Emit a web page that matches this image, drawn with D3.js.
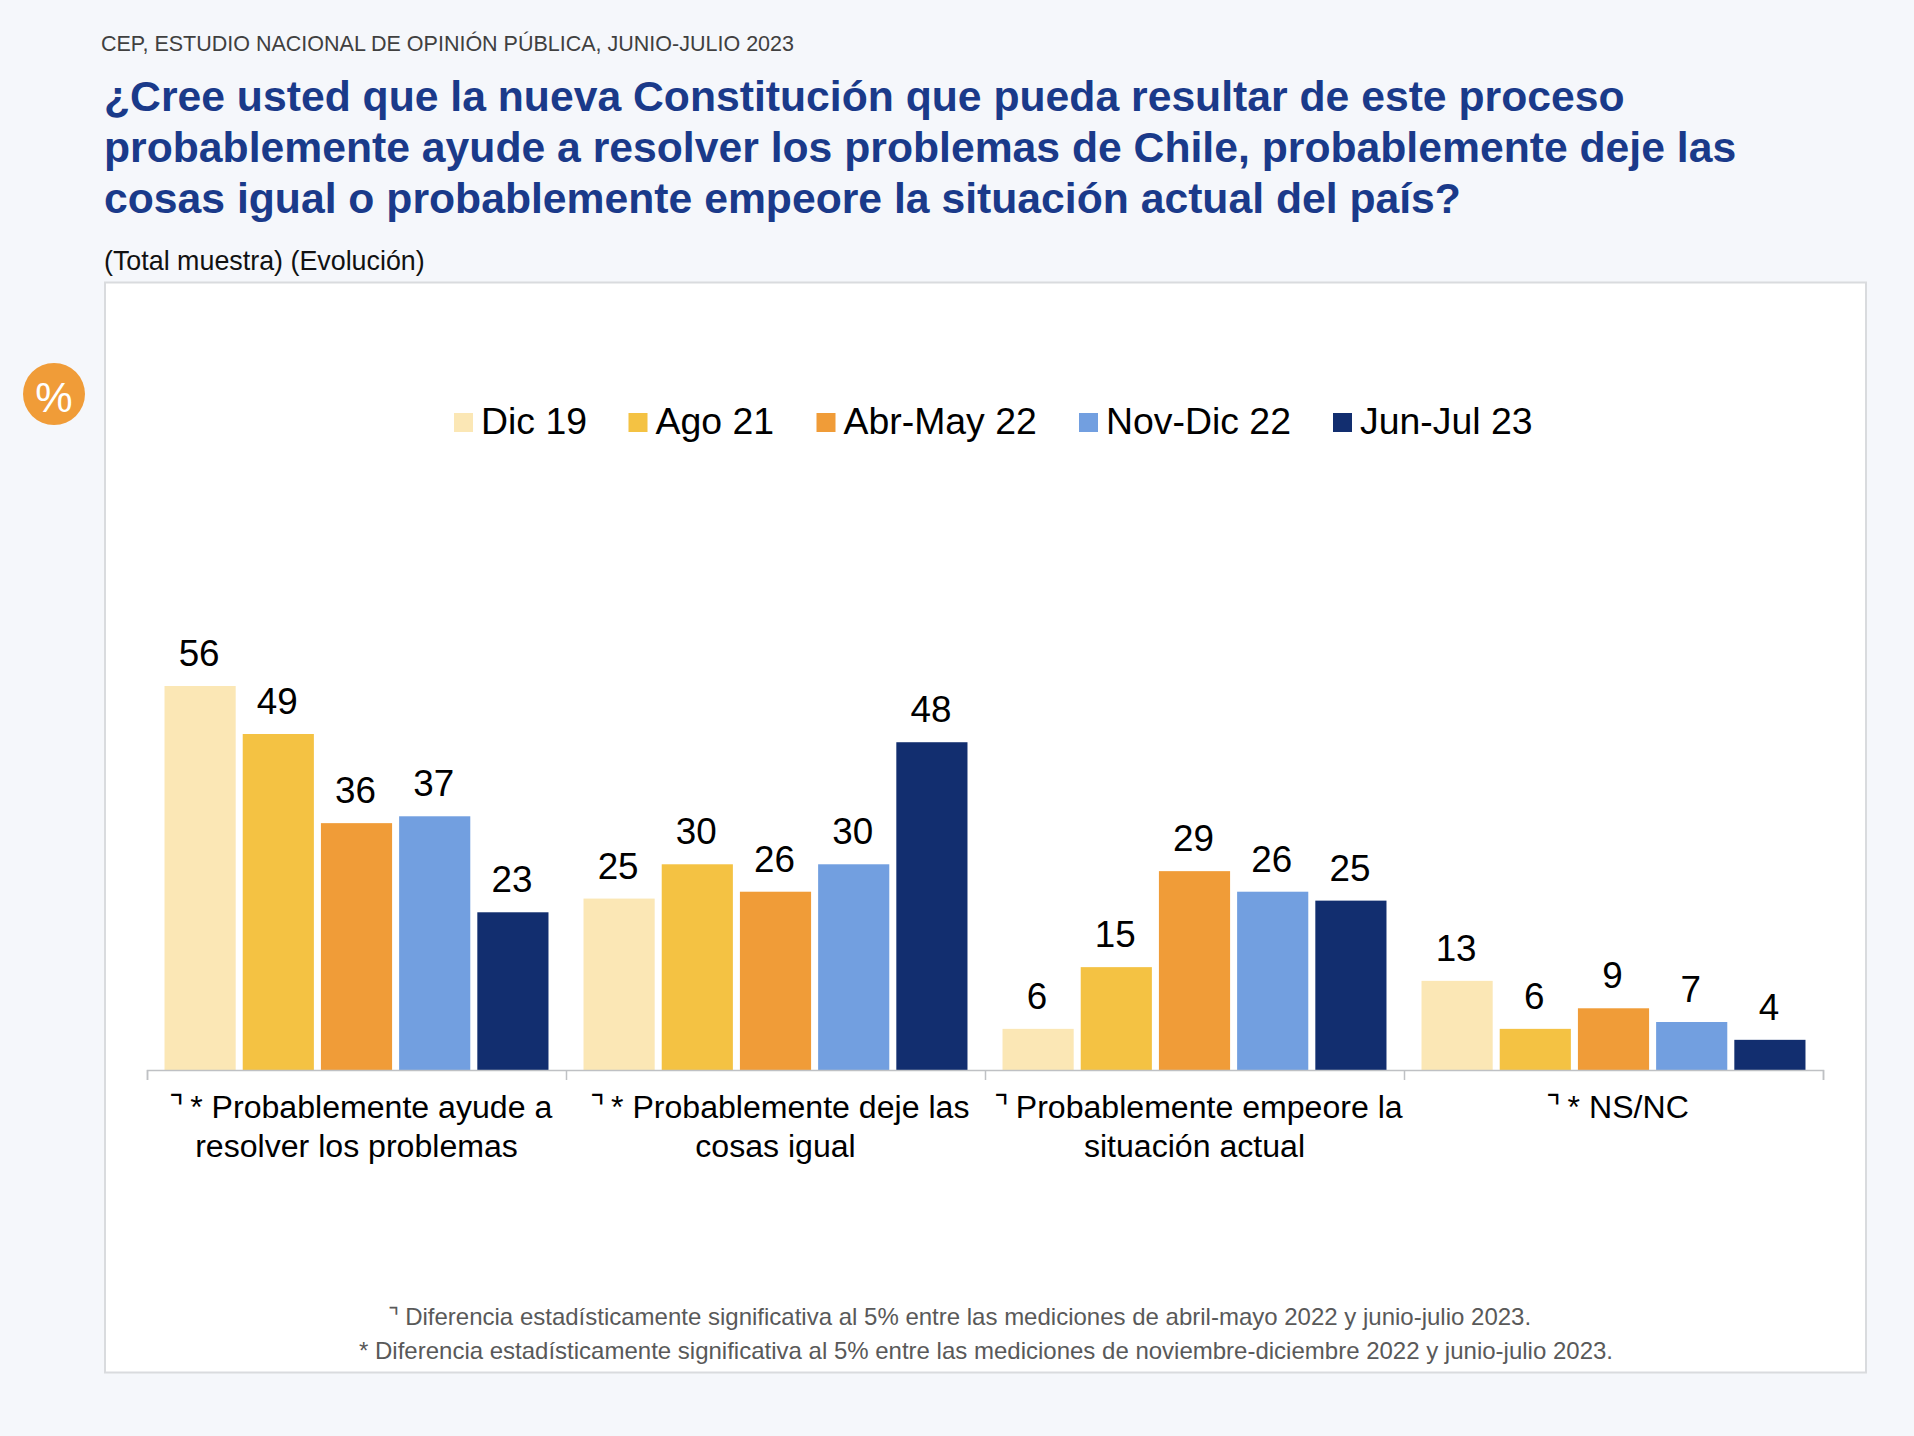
<!DOCTYPE html>
<html>
<head>
<meta charset="utf-8">
<script src="https://cdn.jsdelivr.net/npm/d3@7"></script>
<style>
  body { margin: 0; background: #f5f7fb; }
  text { font-family: "Liberation Sans", Arial, sans-serif; }
</style>
</head>
<body>
<div id="chart"></div>
<script>
// Chart data
var categories = ["grp1", "grp2", "grp3", "grp4"];
var categoryLines = [
    ["⌝\u2009* Probablemente ayude a", "resolver los problemas"],
    ["⌝\u2009* Probablemente deje las", "cosas igual"],
    ["⌝\u2009Probablemente empeore la", "situación actual"],
    ["⌝\u2009* NS/NC"]
];
var seriesNames = ["Dic 19", "Ago 21", "Abr-May 22", "Nov-Dic 22", "Jun-Jul 23"];
var seriesColors = ["#fbe7b5", "#f4c243", "#f09c38", "#729fe0", "#122e6f"];
var dic19 = [56, 25, 6, 13];
var ago21 = [49, 30, 15, 6];
var abrMay22 = [36, 26, 29, 9];
var novDic22 = [37, 30, 26, 7];
var junJul23 = [23, 47.8, 24.7, 4.4];
var seriesValues = [dic19, ago21, abrMay22, novDic22, junJul23];

var titleLines = [
    "¿Cree usted que la nueva Constitución que pueda resultar de este proceso",
    "probablemente ayude a resolver los problemas de Chile, probablemente deje las",
    "cosas igual o probablemente empeore la situación actual del país?"
];
var footnotes = [
    "⌝ Diferencia estadísticamente significativa al 5% entre las mediciones de abril-mayo 2022 y junio-julio 2023.",
    "* Diferencia estadísticamente significativa al 5% entre las mediciones de noviembre-diciembre 2022 y junio-julio 2023."
];

var svgWidth = 1914;
var svgHeight = 1436;

var svg = d3.select("#chart")
    .append("svg")
    .attr("width", svgWidth)
    .attr("height", svgHeight)
    .style("display", "block");

// Header texts
svg.append("text")
    .attr("x", 101)
    .attr("y", 51)
    .attr("font-size", 21.5)
    .attr("fill", "#404040")
    .text("CEP, ESTUDIO NACIONAL DE OPINIÓN PÚBLICA, JUNIO-JULIO 2023");

svg.selectAll(".title")
    .data(titleLines)
    .enter()
    .append("text")
    .attr("class", "title")
    .attr("x", 104)
    .attr("y", (d, i) => 111 + i * 51.2)
    .attr("font-size", 42.7)
    .attr("font-weight", "bold")
    .attr("fill", "#1a3a8a")
    .text(d => d);

svg.append("text")
    .attr("x", 104)
    .attr("y", 270)
    .attr("font-size", 26.85)
    .attr("fill", "#111")
    .text("(Total muestra) (Evolución)");

// White panel
svg.append("rect")
    .attr("x", 105)
    .attr("y", 282.5)
    .attr("width", 1761)
    .attr("height", 1090)
    .attr("fill", "#fff")
    .attr("stroke", "#d9dbde")
    .attr("stroke-width", 2);

// Percent badge
svg.append("circle")
    .attr("cx", 54)
    .attr("cy", 394)
    .attr("r", 31)
    .attr("fill", "#f09c38");

svg.append("text")
    .attr("x", 54)
    .attr("y", 412)
    .attr("text-anchor", "middle")
    .attr("font-size", 42)
    .attr("fill", "#fff")
    .text("%");

// Legend
var legendX = [454, 628.5, 816.5, 1079, 1333];
var legend = svg.selectAll(".legend")
    .data(seriesNames)
    .enter()
    .append("g")
    .attr("class", "legend")
    .attr("transform", (d, i) => `translate(${legendX[i]}, 413)`);

legend.append("rect")
    .attr("width", 19)
    .attr("height", 19)
    .attr("fill", (d, i) => seriesColors[i]);

legend.append("text")
    .attr("x", 27)
    .attr("y", 21)
    .attr("font-size", 37.4)
    .attr("fill", "#000")
    .text(d => d);

// Scales
var baseY = 1070;
var yScale = d3.scaleLinear()
    .domain([0, 56])
    .range([baseY, 686]);

var xGroup = d3.scaleBand()
    .domain(categories)
    .range([147, 1823]);

var xBar = d3.scaleBand()
    .domain(seriesNames)
    .range([0, xGroup.bandwidth()])
    .paddingInner(0.09)
    .paddingOuter(0.224);

// Bars and value labels
var groups = svg.selectAll(".group")
    .data(categories)
    .enter()
    .append("g")
    .attr("class", "group")
    .attr("transform", d => `translate(${xGroup(d)}, 0)`);

groups.each(function(cat, c) {
    var g = d3.select(this);
    var rows = seriesNames.map((name, s) => ({ name: name, color: seriesColors[s], value: seriesValues[s][c] }));

    g.selectAll("rect")
        .data(rows)
        .enter()
        .append("rect")
        .attr("x", d => xBar(d.name))
        .attr("y", d => yScale(d.value))
        .attr("width", xBar.bandwidth())
        .attr("height", d => baseY - yScale(d.value))
        .attr("fill", d => d.color);

    g.selectAll("text")
        .data(rows)
        .enter()
        .append("text")
        .attr("x", d => xBar(d.name) + xBar.bandwidth() / 2 - 1)
        .attr("y", d => yScale(d.value) - 20)
        .attr("text-anchor", "middle")
        .attr("font-size", 36.8)
        .attr("fill", "#000")
        .text(d => d3.format(".0f")(d.value));
});

// Axis line with ticks between the groups
var edgeScale = d3.scaleLinear()
    .domain([0, categories.length])
    .range([147, 1823]);

var edgeAxis = svg.append("g")
    .attr("transform", `translate(0, ${baseY})`)
    .call(d3.axisBottom(edgeScale)
        .tickValues(d3.range(categories.length + 1))
        .tickFormat("")
        .tickSize(10)
        .tickSizeOuter(10));

edgeAxis.selectAll("path, line")
    .attr("stroke", "#bfc1c4")
    .attr("stroke-width", 1.5);

// Category labels
var labelAxis = svg.append("g")
    .attr("transform", `translate(0, ${baseY})`)
    .call(d3.axisBottom(xGroup).tickSize(0));

labelAxis.select(".domain").remove();

labelAxis.selectAll(".tick text")
    .attr("y", 48)
    .attr("dy", null)
    .attr("font-size", 32.1)
    .attr("font-family", "Liberation Sans, DejaVu Sans")
    .attr("fill", "#000")
    .text(null)
    .each(function(d, i) {
        var label = d3.select(this);
        categoryLines[i].forEach(function(line, n) {
            label.append("tspan")
                // lines starting with the marker sit a little to the right
                .attr("x", n == 0 ? 4 : 0)
                .attr("y", 48 + n * 38.7)
                .text(line);
        });
    });

// Footnotes
var footX = [387.5, 359];
svg.selectAll(".footnote")
    .data(footnotes)
    .enter()
    .append("text")
    .attr("class", "footnote")
    .attr("x", (d, i) => footX[i])
    .attr("y", (d, i) => 1325 + i * 33.5)
    .attr("font-size", 24)
    .attr("fill", "#595959")
    .text(d => d);
</script>
</body>
</html>
